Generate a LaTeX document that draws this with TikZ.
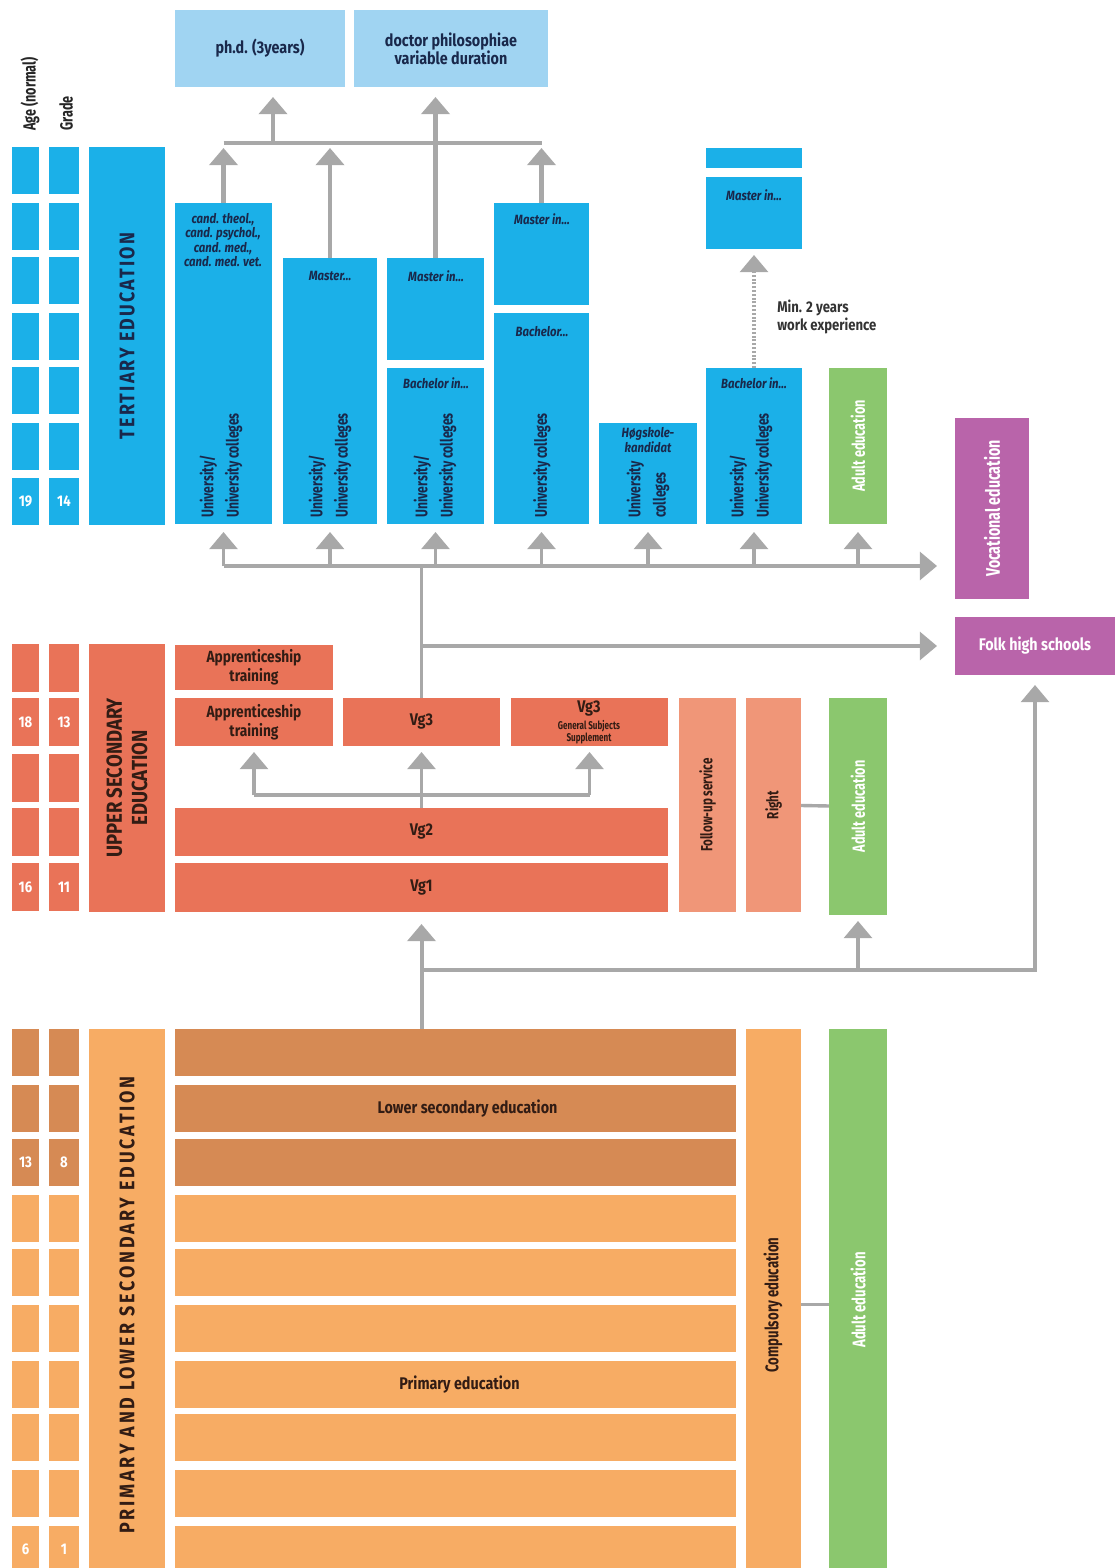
\documentclass[tikz,border=0pt]{standalone}
\usepackage{fontspec}
\setmainfont{Fira Sans}[FakeStretch=0.85]
\newfontfamily\narrowfont{Fira Sans}[FakeStretch=0.72]
\usetikzlibrary{arrows.meta}

\newcommand{\pxu}{0.25mm}
\definecolor{tertblue}{RGB}{27,176,232}
\definecolor{topblue}{RGB}{160,212,242}
\definecolor{uppcoral}{RGB}{233,115,88}
\definecolor{salmonc}{RGB}{240,150,120}
\definecolor{lowsec}{RGB}{214,138,84}
\definecolor{primo}{RGB}{247,172,100}
\definecolor{adultgreen}{RGB}{139,199,110}
\definecolor{folkpurple}{RGB}{185,100,170}
\definecolor{arrowgray}{RGB}{168,168,168}
\definecolor{navy}{RGB}{25,40,75}
\definecolor{brownk}{RGB}{50,28,20}

\begin{document}
\begin{tikzpicture}[
    x=\pxu, y=-\pxu,
    blk/.style={inner sep=0pt, outer sep=0pt, draw=none, align=center, font=\bfseries\fontsize{12}{13}\selectfont},
    spanbox/.style n args={4}{blk, anchor=north west, at={(#1,#2)}, minimum width={(#3-#1)*\pxu}, minimum height={(#4-#2)*\pxu}},
    tert/.style={blk, fill=tertblue},
    topb/.style={blk, fill=topblue, text=navy, font=\bfseries\fontsize{11.5}{12.8}\selectfont},
    coral/.style={blk, fill=uppcoral, text=brownk},
    salm/.style={blk, fill=salmonc},
    adult/.style={blk, fill=adultgreen},
    purp/.style={blk, fill=folkpurple, text=white, font=\bfseries\fontsize{11.5}{12.5}\selectfont},
    rotu/.style={rotate=90, anchor=west, inner sep=0pt, align=left, text=navy, font=\narrowfont\bfseries\fontsize{12}{18}\selectfont},
    rott/.style={rotate=90, inner sep=0pt, align=center, text=brownk, font=\narrowfont\bfseries\fontsize{11.5}{13}\selectfont},
    rotw/.style={rott, text=white},
    lvltxt/.style={rotate=90, inner sep=0pt, align=center, font=\bfseries\fontsize{15}{17}\selectfont},
    ital/.style={inner sep=0pt, align=center, text=navy, font=\bfseries\itshape\fontsize{9.5}{10.3}\selectfont},
    hdr/.style={rotate=90, anchor=west, inner sep=0pt, text=black!85, font=\narrowfont\bfseries\fontsize{12.5}{13}\selectfont},
    num/.style={inner sep=0pt, text=white, font=\bfseries\fontsize{11}{12}\selectfont},
    lbl/.style={inner sep=0pt, align=center, text=brownk, font=\bfseries\fontsize{12}{13}\selectfont},
    tinyl/.style={inner sep=0pt, align=center, text=brownk, font=\narrowfont\bfseries\fontsize{8}{8.5}\selectfont},
    note/.style={inner sep=0pt, align=left, text=black!80, font=\bfseries\fontsize{11}{12.5}\selectfont},
    conn/.style={draw=arrowgray, line width=0.85mm},
    tconn/.style={draw=arrowgray, line width=1.2mm},
    arr/.style={conn, -{Triangle[width=7mm, length=4.3mm]}, shorten >=2mm},
    tarr/.style={tconn, -{Triangle[width=7mm, length=4.3mm]}, shorten >=2.5mm}
]
\useasboundingbox (0,0) rectangle (1115,1568);
\fill[white] (0,0) rectangle (1115,1568);

% column headers
\node[hdr] (agehd) at (30,131) {Age (normal)};
\node[hdr] (grdhd) at (66,131) {Grade};

% age / grade cells
\foreach \yy [count=\i] in {147,203,257,313,367,423,478}{
  \node[tert, spanbox={12}{\yy}{39}{\yy+47}] (ta\i) {};
  \node[tert, spanbox={49}{\yy}{79}{\yy+47}] (tg\i) {};
}
\foreach \yy [count=\i] in {644,698,754,808,863}{
  \node[coral, spanbox={12}{\yy}{39}{\yy+48}] (ua\i) {};
  \node[coral, spanbox={49}{\yy}{79}{\yy+48}] (ug\i) {};
}
\foreach \yy/\cc [count=\i] in {1029/lowsec,1085/lowsec,1139/lowsec,1195/primo,1249/primo,1305/primo,1361/primo,1414/primo,1470/primo,1526/primo}{
  \node[blk, fill=\cc, spanbox={12}{\yy}{39}{\yy+47}] (pa\i) {};
  \node[blk, fill=\cc, spanbox={49}{\yy}{79}{\yy+47}] (pg\i) {};
  \node[blk, fill=\cc, spanbox={175}{\yy}{736}{\yy+47}] (pr\i) {};
}
\node[num] (n19) at (ta7) {19};
\node[num] (n14) at (tg7) {14};
\node[num] (n18) at (ua2) {18};
\node[num] (n13) at (ug2) {13};
\node[num] (n16) at (ua5) {16};
\node[num] (n11) at (ug5) {11};
\node[num] (n13b) at (pa3) {13};
\node[num] (n8) at (pg3) {8};
\node[num] (n6) at (pa10) {6};
\node[num] (n1) at (pg10) {1};

% level labels
\node[tert, spanbox={89}{147}{165}{525}] (terlvl) {};
\node[lvltxt, text=navy] (tertxt) at (terlvl.center) {\addfontfeatures{LetterSpace=10}TERTIARY EDUCATION};
\node[coral, spanbox={89}{644}{165}{912}] (upplvl) {};
\node[lvltxt, text=brownk, font=\bfseries\fontsize{15.5}{18}\selectfont] (upptxt) at (upplvl.center) {UPPER SECONDARY\\EDUCATION};
\node[blk, fill=primo, spanbox={89}{1029}{165}{1580}] (prilvl) {};
\node[lvltxt, text=brownk] (pritxt) at (127,1305) {\addfontfeatures{LetterSpace=13}PRIMARY AND LOWER SECONDARY EDUCATION};

% doctoral level
\node[topb, spanbox={175}{10}{345}{87}] (phd) {ph.d. (3years)};
\node[topb, spanbox={354}{10}{548}{87}] (dr) {doctor philosophiae\\variable duration};

% tertiary education
\node[tert, spanbox={175}{203}{272}{524}] (cand) {};
\node[tert, spanbox={283}{258}{377}{524}] (mst2) {};
\node[tert, spanbox={387}{258}{484}{360}] (mst3) {};
\node[tert, spanbox={387}{368}{484}{524}] (bch3) {};
\node[tert, spanbox={494}{203}{589}{305}] (mst4) {};
\node[tert, spanbox={494}{313}{589}{524}] (bch4) {};
\node[tert, spanbox={599}{423}{697}{524}] (hgk) {};
\node[tert, spanbox={706}{148}{802}{168}] (strip6) {};
\node[tert, spanbox={706}{177}{802}{249}] (mst6) {};
\node[tert, spanbox={706}{368}{802}{524}] (bch6) {};
\node[adult, spanbox={829}{368}{887}{524}] (adu1) {};
\node[rotw, font=\narrowfont\bfseries\fontsize{12.5}{13}\selectfont] (adu1txt) at (adu1.center) {Adult education};

\node[ital] (candtxt) at (223,240) {cand. theol.,\\cand. psychol.,\\cand. med.,\\cand. med. vet.};
\node[ital] (mst2txt) at (330,276) {Master...};
\node[ital] (mst3txt) at (436,276) {Master in...};
\node[ital] (bch3txt) at (436,383) {Bachelor in...};
\node[ital] (mst4txt) at (542,219) {Master in...};
\node[ital] (bch4txt) at (542,332) {Bachelor...};
\node[ital] (hgktxt) at (648,440) {Høgskole-\\kandidat};
\node[ital] (mst6txt) at (754,195) {Master in...};
\node[ital] (bch6txt) at (754,383) {Bachelor in...};

\node[rotu] (u1) at (221,518) {University/\\University colleges};
\node[rotu] (u2) at (330,518) {University/\\University colleges};
\node[rotu] (u3) at (435,518) {University/\\University colleges};
\node[rotu] (u4) at (542,518) {University colleges};
\node[rotu] (u5) at (648,518) {University\\colleges};
\node[rotu] (u6) at (751,518) {University/\\University colleges};

\node[note, anchor=north west] (wexp) at (777,300) {Min. 2 years\\work experience};

% vocational / folk high schools
\node[purp, spanbox={955}{418}{1029}{599}] (voc) {};
\node[rotw, font=\narrowfont\bfseries\fontsize{14}{15}\selectfont] (voctxt) at (voc.center) {Vocational education};
\node[purp, spanbox={955}{617}{1115}{675}] (folk) {Folk high schools};

% upper secondary education
\node[coral, spanbox={175}{645}{333}{690}, font=\bfseries\fontsize{11.5}{13.5}\selectfont] (app1) {Apprenticeship\\training};
\node[coral, spanbox={175}{698}{333}{746}, font=\bfseries\fontsize{11.5}{13.5}\selectfont] (app2) {Apprenticeship\\training};
\node[coral, spanbox={343}{698}{500}{746}] (vg3) {Vg3};
\node[coral, spanbox={511}{698}{668}{746}] (gss) {};
\node[lbl] (gssa) at (589,709) {Vg3};
\node[tinyl] (gssb) at (589,732) {General Subjects\\Supplement};
\node[coral, spanbox={175}{808}{668}{856}] (vg2) {Vg2};
\node[coral, spanbox={175}{863}{668}{912}] (vg1) {Vg1};
\node[salm, spanbox={679}{698}{736}{912}] (fus) {};
\node[rott] (fustxt) at (fus.center) {Follow-up service};
\node[salm, spanbox={746}{698}{801}{912}] (rgt) {};
\node[rott] (rgttxt) at (rgt.center) {Right};
\node[adult, spanbox={829}{698}{887}{915}] (adu2) {};
\node[rotw, font=\narrowfont\bfseries\fontsize{12.5}{13}\selectfont] (adu2txt) at (adu2.center) {Adult education};

% primary and lower secondary education
\node[lbl] (lstxt) at ([xshift=3mm]pr2.center) {Lower secondary education};
\node[lbl] (pstxt) at ([xshift=1mm]pr7.center) {Primary education};
\node[blk, fill=primo, spanbox={746}{1029}{801}{1580}] (comp) {};
\node[rott, font=\narrowfont\bfseries\fontsize{13}{14}\selectfont] (comptxt) at (773,1305) {Compulsory education};
\node[adult, spanbox={829}{1029}{887}{1580}] (adu3) {};
\node[rotw, font=\narrowfont\bfseries\fontsize{13}{14}\selectfont] (adu3txt) at (858,1300) {Adult education};

% connectors: doctoral level
\coordinate (jn) at (273,143);
\draw[tconn] (cand.north |- jn) -- (mst4.north |- jn);
\foreach \b in {cand,mst2,mst4}
  \draw[tarr, shorten >=1.25mm] (\b.north) -- (\b.north |- jn);
\draw[tarr] (jn) -- (jn |- phd.south);
\draw[tarr] (mst3.north) -- (mst3.north |- dr.south);
\draw[arr, dash pattern=on 1.5pt off 1.2pt, shorten >=1.5mm] (bch6.north) -- (mst6.south);

% connectors: into tertiary
\coordinate (dist) at (422,566);
\draw[conn] (vg3.north) -- (vg3.north |- dist);
\draw[arr, shorten >=4.5mm] (cand.south |- dist) -- (dist -| voc.west);
\foreach \b in {cand,mst2,bch3,bch4,hgk,bch6,adu1}
  \draw[arr] (\b.south |- dist) -- (\b.south);
\draw[arr, shorten >=4.5mm] (vg3.north |- folk.west) -- (folk.west);

% connectors: upper secondary
\coordinate (vgj) at (418,795);
\draw[conn] (app2.south |- vgj) -- (gss.south |- vgj);
\draw[arr, shorten >=1.5mm] (app2.south |- vgj) -- (app2.south);
\draw[arr, shorten >=1.5mm] (gss.south |- vgj) -- (gss.south);
\draw[arr, shorten >=1.5mm] (vg2.north) -- (vg3.south);
\draw[conn] (rgt) -- (adu2);

% connectors: from compulsory school
\coordinate (pj) at (418,970);
\draw[arr, line width=1mm, shorten >=3mm] (vg1.south |- pr1.north) -- (vg1.south);
\draw[arr, shorten >=2.5mm] (vg1.south |- pj) -- (folk.south |- pj) -- (folk.south);
\draw[arr, shorten >=1.5mm] (adu2.south |- pj) -- (adu2.south);
\draw[conn] (comp) -- (adu3);

\end{tikzpicture}
\end{document}
